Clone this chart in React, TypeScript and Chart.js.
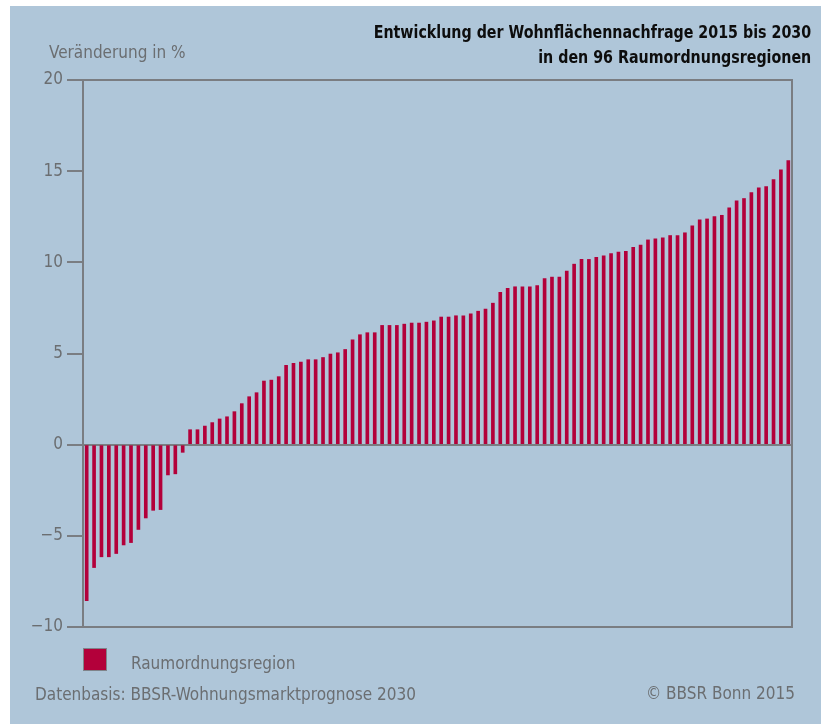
import React, { useEffect, useRef } from "react";
import { Chart, registerables } from "chart.js";

Chart.register(...registerables);

const regions: string[] = Array.from({ length: 96 }, (_, i) => String(i + 1));

const changeNegative: number[] = [
  -8.56, -6.74, -6.15, -6.15, -5.97, -5.5, -5.37, -4.65, -4.02, -3.6, -3.56, -1.66, -1.6, -0.42,
];

const changePositive: number[] = [
  0.82, 0.82, 1.02, 1.21, 1.41, 1.53, 1.81, 2.25, 2.63, 2.85,
  3.49, 3.54, 3.73, 4.35, 4.46, 4.53, 4.66, 4.66, 4.78, 4.97,
  5.04, 5.22, 5.75, 6.03, 6.14, 6.14, 6.54, 6.54, 6.54, 6.61,
  6.67, 6.67, 6.72, 6.79, 7.0, 7.0, 7.07, 7.07, 7.17, 7.32,
  7.43, 7.76, 8.35, 8.58, 8.66, 8.66, 8.66, 8.73, 9.11, 9.19,
  9.19, 9.52, 9.9, 10.16, 10.16, 10.28, 10.36, 10.48, 10.56, 10.61,
  10.82, 10.94, 11.23, 11.29, 11.34, 11.47, 11.47, 11.62, 12.0, 12.33,
  12.38, 12.51, 12.58, 12.99, 13.37, 13.5, 13.83, 14.08, 14.16, 14.54,
  15.07, 15.58,
];

const changeValues: number[] = [...changeNegative, ...changePositive];

const yTicks: number[] = [-10, -5, 0, 5, 10, 15, 20];

const FONT = "'Liberation Sans Narrow', 'DejaVu Sans Condensed', 'Arial Narrow', sans-serif";
const BG = "#afc6d9";
const BAR = "#b3003a";
const LINE = "#7a7d82";
const TEXT = "#6b6e71";

const W = 811;
const H = 718;

export default function App() {
  const ref = useRef<HTMLCanvasElement | null>(null);

  useEffect(() => {
    if (!ref.current) return;
    const chart = new Chart(ref.current, {
      type: "bar",
      data: {
        labels: regions,
        datasets: [
          {
            label: "Raumordnungsregion",
            data: changeValues,
            backgroundColor: BAR,
            borderWidth: 0,
            barThickness: 3,
            yAxisID: "y",
          },
        ],
      },
      options: {
        responsive: false,
        animation: false,
        layout: { padding: { left: 0, right: 29, top: 74, bottom: 97 } },
        plugins: {
          legend: { display: false },
          title: { display: false },
          tooltip: { enabled: false },
        },
        scales: {
          x: {
            display: false,
            offset: true,
          },
          y: {
            position: "left",
            min: -10,
            max: 20,
            afterFit: (scale: any) => {
              scale.width = 73;
            },
            afterBuildTicks: (scale: any) => {
              scale.ticks = yTicks.map((v) => ({ value: v }));
            },
            ticks: {
              stepSize: 5,
              padding: 4,
              color: TEXT,
              font: { family: FONT, size: 17 },
              callback: (v: any) => (Number(v) < 0 ? "\u2212" + Math.abs(Number(v)) : String(v)),
            },
            grid: {
              display: true,
              drawTicks: true,
              tickLength: 16,
              tickWidth: 2,
              tickColor: LINE,
              lineWidth: 2,
              color: (ctx: any) => {
                const v = ctx.tick ? ctx.tick.value : null;
                return v === 0 || v === 20 || v === -10 ? LINE : "rgba(0,0,0,0)";
              },
            },
            border: { display: true, color: LINE, width: 2 },
          },
          y2: {
            position: "right",
            min: -10,
            max: 20,
            afterFit: (scale: any) => {
              scale.width = 0;
            },
            ticks: { display: false },
            grid: { display: false, drawTicks: false, tickLength: 0 },
            border: { display: true, color: LINE, width: 2 },
          },
        },
      },
    });
    return () => chart.destroy();
  }, []);

  const gray: React.CSSProperties = {
    position: "absolute",
    fontFamily: FONT,
    fontSize: 17,
    lineHeight: "20px",
    color: TEXT,
    whiteSpace: "nowrap",
  };
  const title: React.CSSProperties = {
    position: "absolute",
    fontFamily: FONT,
    fontSize: 18,
    fontWeight: "bold",
    lineHeight: "20px",
    color: "#0d0d0d",
    whiteSpace: "nowrap",
    right: 10,
    transform: "scaleX(0.88)",
    transformOrigin: "right center",
  };

  return (
    <div
      style={{
        position: "absolute",
        left: 10,
        top: 6,
        width: W,
        height: H,
        background: BG,
        overflow: "hidden",
      }}
    >
      <canvas ref={ref} width={W} height={H} style={{ position: "absolute", left: 0, top: 0, width: W, height: H }} />
      <div style={{ ...title, top: 16 }}>Entwicklung der Wohnflächennachfrage 2015 bis 2030</div>
      <div style={{ ...title, top: 41 }}>in den 96 Raumordnungsregionen</div>
      <div style={{ ...gray, left: 39, top: 36 }}>Veränderung in %</div>
      <div
        style={{
          position: "absolute",
          left: 73,
          top: 642,
          width: 22,
          height: 21,
          background: BAR,
          border: "1px solid #80838a",
        }}
      />
      <div style={{ ...gray, left: 121, top: 647 }}>Raumordnungsregion</div>
      <div style={{ ...gray, left: 25, top: 678 }}>Datenbasis: BBSR-Wohnungsmarktprognose 2030</div>
      <div style={{ ...gray, right: 26, top: 677 }}>© BBSR Bonn 2015</div>
    </div>
  );
}
